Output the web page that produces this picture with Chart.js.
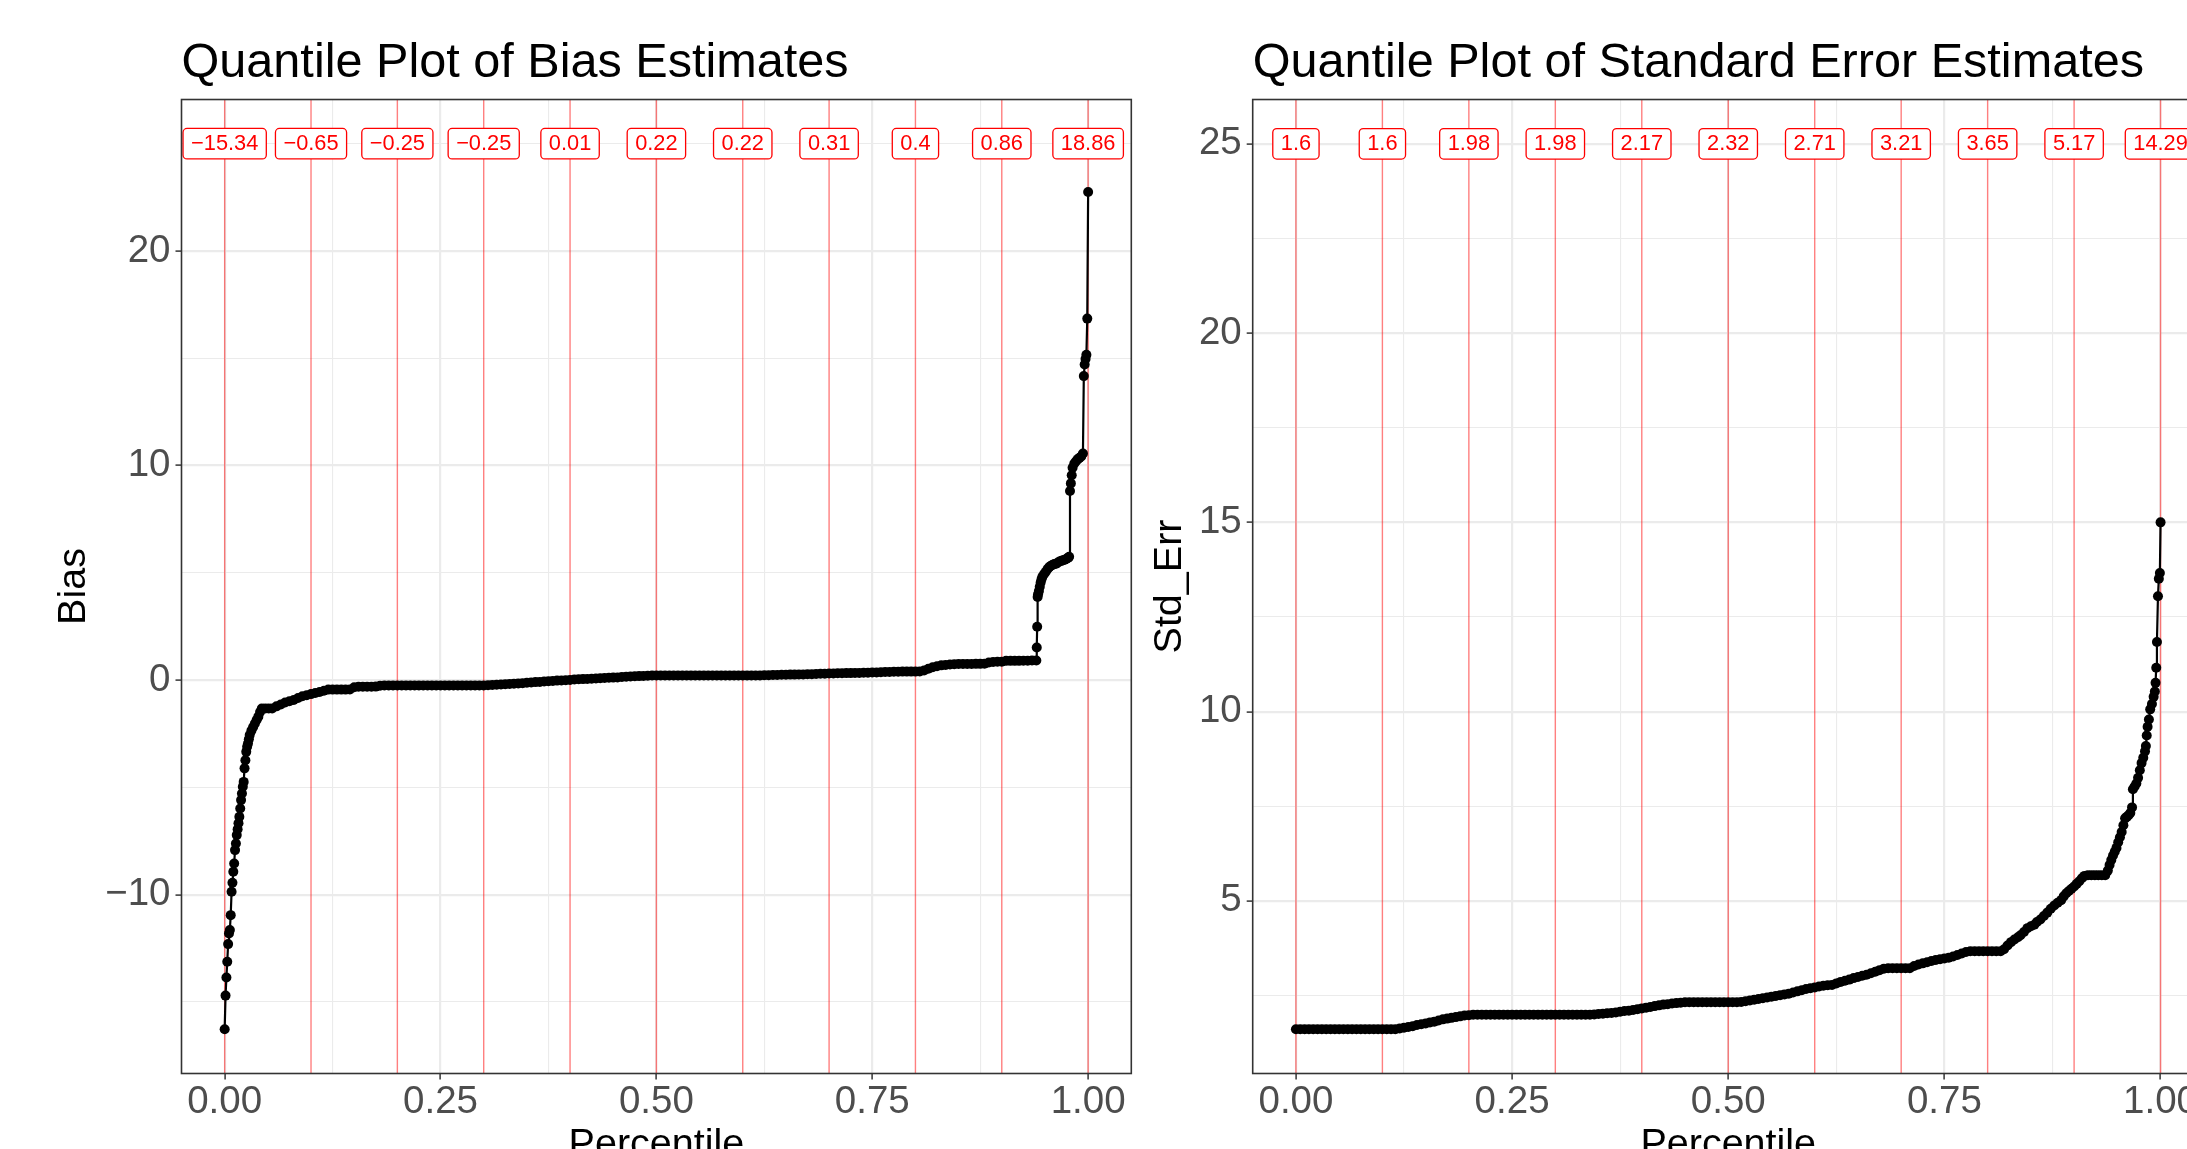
<!DOCTYPE html>
<html>
<head>
<meta charset="utf-8">
<title>Quantile plots</title>
<script src="https://cdn.jsdelivr.net/npm/chart.js@4.4.1/dist/chart.umd.min.js"></script>
<style>
  html, body { margin: 0; padding: 0; background: #fff; overflow: hidden; }
  body { width: 2187px; height: 1149px; position: relative; }
  canvas { position: absolute; top: 0; }
  #bias-chart { left: 0; }
  #se-chart { left: 1140px; }
</style>
</head>
<body>
<canvas id="bias-chart" width="1160" height="1200"></canvas>
<canvas id="se-chart" width="1100" height="1200"></canvas>
<script>
const FONT = '"Liberation Sans", Arial, Helvetica, sans-serif';

// quantile markers (red lines + boxed labels at y = 25)
const quantileSteps = [0, 0.1, 0.2, 0.3, 0.4, 0.5, 0.6, 0.7, 0.8, 0.9, 1.0];
const biasQuantiles = [-15.34, -0.65, -0.25, -0.25, 0.01, 0.22, 0.22, 0.31, 0.4, 0.86, 18.86];
const seQuantiles = [1.6, 1.6, 1.98, 1.98, 2.17, 2.32, 2.71, 3.21, 3.65, 5.17, 14.29];
const labelLevel = 25;

// tick marks ('' = minor gridline only)
const xTickValues = [0, 0.125, 0.25, 0.375, 0.5, 0.625, 0.75, 0.875, 1];
const xTickLabels = ['0.00', '', '0.25', '', '0.50', '', '0.75', '', '1.00'];
const biasTickValues = [-15, -10, -5, 0, 5, 10, 15, 20, 25];
const biasTickLabels = ['', '\u221210', '', '0', '', '10', '', '20', ''];
const seTickValues = [2.5, 5, 7.5, 10, 12.5, 15, 17.5, 20, 22.5, 25];
const seTickLabels = ['', '5', '', '10', '', '15', '', '20', '', '25'];

// bias estimates, sorted
const biasPct = [
  0.000,0.001,0.002,0.003,0.004,0.005,0.006,0.007,0.008,0.009,
  0.010,0.011,0.012,0.013,0.014,0.015,0.016,0.017,0.018,0.019,
  0.020,0.021,0.022,0.023,0.024,0.025,0.026,0.027,0.028,0.029,
  0.031,0.033,0.035,0.037,0.039,0.041,0.043,0.047,0.051,0.055,
  0.060,0.065,0.070,0.075,0.080,0.085,0.090,0.095,0.100,0.105,
  0.110,0.115,0.120,0.125,0.130,0.135,0.140,0.145,0.150,0.155,
  0.160,0.165,0.170,0.175,0.180,0.185,0.190,0.195,0.200,0.205,
  0.210,0.215,0.220,0.225,0.230,0.235,0.240,0.245,0.250,0.255,
  0.260,0.265,0.270,0.275,0.280,0.285,0.290,0.295,0.300,0.305,
  0.310,0.315,0.320,0.325,0.330,0.335,0.340,0.345,0.350,0.355,
  0.360,0.365,0.370,0.375,0.380,0.385,0.390,0.395,0.400,0.405,
  0.410,0.415,0.420,0.425,0.430,0.435,0.440,0.445,0.450,0.455,
  0.460,0.465,0.470,0.475,0.480,0.485,0.490,0.495,0.500,0.505,
  0.510,0.515,0.520,0.525,0.530,0.535,0.540,0.545,0.550,0.555,
  0.560,0.565,0.570,0.575,0.580,0.585,0.590,0.595,0.600,0.605,
  0.610,0.615,0.620,0.625,0.630,0.635,0.640,0.645,0.650,0.655,
  0.660,0.665,0.670,0.675,0.680,0.685,0.690,0.695,0.700,0.705,
  0.710,0.715,0.720,0.725,0.730,0.735,0.740,0.745,0.750,0.755,
  0.760,0.765,0.770,0.775,0.780,0.785,0.790,0.795,0.800,0.805,
  0.810,0.815,0.820,0.825,0.830,0.835,0.840,0.845,0.850,0.855,
  0.860,0.865,0.870,0.875,0.880,0.885,0.890,0.895,0.900,0.905,
  0.910,0.915,0.920,0.925,0.930,0.935,0.940,
  0.9405,0.941,0.9415,0.942,0.943,0.944,0.945,0.946,0.947,0.949,
  0.951,0.953,0.955,0.957,0.959,0.961,0.963,0.965,0.967,0.969,
  0.971,0.973,0.975,0.977,0.978,0.979,0.980,0.981,0.982,0.984,
  0.986,0.988,0.990,0.992,0.994,0.995,0.996,0.997,0.998,0.999,1.000
];
const biasValues = [
  -16.27,-14.70,-13.86,-13.12,-12.30,-11.80,-11.64,-10.95,-9.86,-9.44,
  -8.93,-8.54,-7.92,-7.61,-7.22,-6.95,-6.67,-6.37,-5.98,-5.59,
  -5.28,-4.97,-4.74,-4.11,-3.73,-3.34,-3.10,-2.95,-2.75,-2.56,
  -2.35,-2.18,-2.02,-1.86,-1.70,-1.48,-1.32,-1.32,-1.32,-1.32,
  -1.22,-1.13,-1.04,-0.98,-0.92,-0.83,-0.75,-0.70,-0.65,-0.60,
  -0.55,-0.49,-0.44,-0.44,-0.44,-0.44,-0.44,-0.43,-0.33,-0.31,
  -0.31,-0.31,-0.31,-0.30,-0.26,-0.25,-0.25,-0.25,-0.25,-0.25,
  -0.25,-0.25,-0.25,-0.25,-0.25,-0.25,-0.25,-0.25,-0.25,-0.25,
  -0.25,-0.25,-0.25,-0.25,-0.25,-0.25,-0.25,-0.25,-0.25,-0.24,
  -0.22,-0.21,-0.20,-0.19,-0.18,-0.17,-0.15,-0.14,-0.12,-0.11,
  -0.09,-0.08,-0.06,-0.05,-0.04,-0.02,-0.01,0.00,0.01,0.03,
  0.04,0.05,0.06,0.07,0.08,0.09,0.10,0.11,0.12,0.13,
  0.15,0.16,0.17,0.18,0.19,0.20,0.21,0.22,0.22,0.22,
  0.22,0.22,0.22,0.22,0.22,0.22,0.22,0.22,0.22,0.22,
  0.22,0.22,0.22,0.22,0.22,0.22,0.22,0.22,0.22,0.22,
  0.22,0.22,0.22,0.23,0.23,0.24,0.24,0.25,0.25,0.26,
  0.26,0.27,0.27,0.28,0.28,0.29,0.30,0.30,0.31,0.31,
  0.32,0.32,0.33,0.33,0.34,0.34,0.35,0.35,0.36,0.36,
  0.37,0.38,0.38,0.39,0.39,0.40,0.40,0.40,0.40,0.41,
  0.45,0.53,0.60,0.65,0.69,0.71,0.73,0.74,0.75,0.75,
  0.75,0.75,0.76,0.76,0.77,0.82,0.85,0.86,0.86,0.90,
  0.90,0.90,0.90,0.91,0.91,0.92,0.92,
  1.52,2.49,3.88,4.00,4.15,4.35,4.55,4.70,4.82,4.95,
  5.05,5.18,5.27,5.33,5.38,5.41,5.43,5.48,5.53,5.56,
  5.59,5.61,5.66,5.71,5.75,8.82,9.17,9.55,9.90,10.10,
  10.20,10.30,10.36,10.42,10.56,14.17,14.71,14.97,15.16,16.85,22.75
];

// standard error estimates, sorted
const sePct = [
  0.000,0.005,0.010,0.015,0.020,0.025,0.030,0.035,0.040,0.045,
  0.050,0.055,0.060,0.065,0.070,0.075,0.080,0.085,0.090,0.095,
  0.100,0.105,0.110,0.115,0.120,0.125,0.130,0.135,0.140,0.145,
  0.150,0.155,0.160,0.165,0.170,0.175,0.180,0.185,0.190,0.195,
  0.200,0.205,0.210,0.215,0.220,0.225,0.230,0.235,0.240,0.245,
  0.250,0.255,0.260,0.265,0.270,0.275,0.280,0.285,0.290,0.295,
  0.300,0.305,0.310,0.315,0.320,0.325,0.330,0.335,0.340,0.345,
  0.350,0.355,0.360,0.365,0.370,0.375,0.380,0.385,0.390,0.395,
  0.400,0.405,0.410,0.415,0.420,0.425,0.430,0.435,0.440,0.445,
  0.450,0.455,0.460,0.465,0.470,0.475,0.480,0.485,0.490,0.495,
  0.500,0.505,0.510,0.515,0.520,0.525,0.530,0.535,0.540,0.545,
  0.550,0.555,0.560,0.565,0.570,0.575,0.580,0.585,0.590,0.595,
  0.600,0.605,0.610,0.615,0.620,0.625,0.630,0.635,0.640,0.645,
  0.650,0.655,0.660,0.665,0.670,0.675,0.680,0.685,0.690,0.695,
  0.700,0.705,0.710,0.715,0.720,0.725,0.730,0.735,0.740,0.745,
  0.750,0.755,0.760,0.765,0.770,0.775,0.780,0.785,0.790,0.795,
  0.800,0.805,0.810,0.815,
  0.819,0.823,0.827,0.831,0.835,0.838,0.842,0.846,0.850,0.854,
  0.857,0.861,0.865,0.869,0.873,0.877,0.881,0.885,0.888,0.891,
  0.894,0.897,0.900,0.903,0.906,0.909,0.912,0.916,0.920,0.924,
  0.928,0.932,0.936,0.939,0.941,0.943,0.945,0.947,0.949,0.951,
  0.953,0.955,0.957,0.959,0.961,0.963,0.965,0.967,0.968,0.970,
  0.972,0.974,0.976,0.978,0.980,0.982,0.983,0.984,0.985,0.9865,
  0.988,0.990,0.992,0.9934,0.9942,0.995,0.9958,0.997,0.998,0.9992,1.000
];
const seValues = [
  1.61,1.61,1.61,1.61,1.61,1.61,1.61,1.61,1.61,1.61,
  1.61,1.61,1.61,1.61,1.61,1.61,1.61,1.61,1.61,1.61,
  1.61,1.61,1.61,1.61,1.63,1.65,1.67,1.69,1.72,1.74,
  1.76,1.79,1.81,1.84,1.87,1.89,1.91,1.93,1.95,1.97,
  1.98,1.99,1.99,1.99,1.99,1.99,1.99,1.99,1.99,1.99,
  1.99,1.99,1.99,1.99,1.99,1.99,1.99,1.99,1.99,1.99,
  1.99,1.99,1.99,1.99,1.99,1.99,1.99,1.99,1.99,2.00,
  2.01,2.02,2.03,2.04,2.05,2.07,2.09,2.10,2.12,2.14,
  2.16,2.18,2.20,2.22,2.24,2.26,2.27,2.29,2.30,2.31,
  2.32,2.32,2.32,2.32,2.32,2.32,2.32,2.32,2.32,2.32,
  2.32,2.32,2.32,2.33,2.35,2.37,2.39,2.41,2.43,2.45,
  2.47,2.49,2.51,2.53,2.55,2.58,2.61,2.64,2.67,2.69,
  2.71,2.74,2.76,2.77,2.78,2.82,2.86,2.89,2.92,2.96,
  2.99,3.02,3.05,3.09,3.13,3.17,3.21,3.22,3.22,3.22,
  3.22,3.22,3.22,3.28,3.32,3.35,3.38,3.41,3.44,3.46,
  3.48,3.50,3.53,3.57,3.61,3.65,3.67,3.67,3.67,3.67,
  3.67,3.67,3.67,3.67,
  3.72,3.82,3.91,3.98,4.04,4.09,4.18,4.28,4.33,4.37,
  4.44,4.51,4.60,4.69,4.79,4.88,4.95,5.02,5.12,5.20,
  5.26,5.32,5.38,5.45,5.52,5.60,5.66,5.68,5.68,5.68,
  5.68,5.68,5.68,5.80,5.95,6.08,6.20,6.30,6.40,6.55,
  6.68,6.82,7.00,7.18,7.22,7.26,7.32,7.47,7.95,8.02,
  8.10,8.25,8.45,8.64,8.78,8.95,9.09,9.37,9.60,9.79,
  10.06,10.20,10.39,10.53,10.76,11.16,11.84,13.05,13.51,13.66,15.00
];

function fmtLabel(v) {
  return v < 0 ? '\u2212' + Math.abs(v) : String(v);
}

// red vertical lines at each decile
const quantileLines = {
  id: 'quantileLines',
  beforeDatasetsDraw(chart) {
    const { ctx, chartArea } = chart;
    const xs = chart.scales.x;
    ctx.save();
    ctx.strokeStyle = 'rgba(255,0,0,0.5)';
    ctx.lineWidth = 1.4;
    quantileSteps.forEach(q => {
      const x = xs.getPixelForValue(q);
      ctx.beginPath();
      ctx.moveTo(x, chartArea.top);
      ctx.lineTo(x, chartArea.bottom);
      ctx.stroke();
    });
    ctx.restore();
  }
};

// boxed quantile values
const quantileBoxes = {
  id: 'quantileBoxes',
  afterDatasetsDraw(chart, args, opts) {
    const { ctx } = chart;
    const xs = chart.scales.x, ys = chart.scales.y;
    const y = ys.getPixelForValue(labelLevel);
    ctx.save();
    ctx.font = '21.8px ' + FONT;
    ctx.textAlign = 'center';
    ctx.textBaseline = 'middle';
    opts.values.forEach((v, i) => {
      const text = fmtLabel(v);
      const x = xs.getPixelForValue(quantileSteps[i]);
      const w = ctx.measureText(text).width + 16;
      const h = 30.5;
      const l = x - w / 2, t = y - h / 2, r = 4;
      ctx.beginPath();
      ctx.moveTo(l + r, t);
      ctx.arcTo(l + w, t, l + w, t + h, r);
      ctx.arcTo(l + w, t + h, l, t + h, r);
      ctx.arcTo(l, t + h, l, t, r);
      ctx.arcTo(l, t, l + w, t, r);
      ctx.closePath();
      ctx.fillStyle = '#ffffff';
      ctx.fill();
      ctx.strokeStyle = '#ff0000';
      ctx.lineWidth = 1.3;
      ctx.stroke();
      ctx.fillStyle = '#ff0000';
      ctx.fillText(text, x, y + 0.5);
    });
    ctx.restore();
  }
};

const panelBorder = {
  id: 'panelBorder',
  afterDraw(chart) {
    const { ctx, chartArea } = chart;
    ctx.save();
    ctx.strokeStyle = '#333333';
    ctx.lineWidth = 1.6;
    ctx.strokeRect(chartArea.left, chartArea.top, chartArea.right - chartArea.left, chartArea.bottom - chartArea.top);
    ctx.restore();
  }
};

function makeChart(canvasId, s) {
  const points = s.pct.map((p, i) => ({ x: p, y: s.values[i] }));
  return new Chart(document.getElementById(canvasId), {
    type: 'scatter',
    data: {
      datasets: [{
        data: points,
        showLine: true,
        borderColor: '#000000',
        borderWidth: 2.2,
        tension: 0,
        pointRadius: 5,
        pointBackgroundColor: '#000000',
        pointBorderWidth: 0
      }]
    },
    options: {
      responsive: false,
      animation: false,
      layout: { padding: { left: 0, right: s.padRight, top: 0, bottom: 0 } },
      plugins: {
        legend: { display: false },
        tooltip: { enabled: false },
        title: {
          display: true,
          text: s.title,
          align: 'start',
          fullSize: false,
          color: '#000000',
          font: { family: FONT, size: 48.6, weight: 'normal', lineHeight: 1.2 },
          padding: { top: 34.5, bottom: 6.7 }
        },
        quantileBoxes: { values: s.quantiles }
      },
      scales: {
        x: {
          type: 'linear',
          bounds: 'data',
          min: -0.05,
          max: 1.05,
          afterBuildTicks: sc => { sc.ticks = xTickValues.map(v => ({ value: v })); },
          afterFit: sc => { sc.height = 126.5; },
          ticks: {
            callback: (v, i) => xTickLabels[i],
            autoSkip: false, maxRotation: 0, minRotation: 0,
            color: '#4D4D4D',
            font: { family: FONT, size: 38.5, lineHeight: 1 },
            padding: 3.5
          },
          grid: {
            color: '#EBEBEB',
            lineWidth: c => xTickLabels[c.index] ? 2.2 : 1.1,
            tickLength: 6,
            tickWidth: 1.5,
            tickColor: c => xTickLabels[c.index] ? '#333333' : 'rgba(0,0,0,0)'
          },
          border: { display: false },
          title: {
            display: true, text: 'Percentile', color: '#000000',
            font: { family: FONT, size: 39.5, lineHeight: 1.2 },
            padding: { top: 0, bottom: 30.7 }
          }
        },
        y: {
          type: 'linear',
          bounds: 'data',
          min: s.yMin,
          max: s.yMax,
          afterBuildTicks: sc => { sc.ticks = s.yTicks.map(v => ({ value: v })); },
          afterFit: sc => { sc.width = s.yWidth; },
          ticks: {
            callback: (v, i) => s.yLabels[i],
            autoSkip: false,
            color: '#4D4D4D',
            font: { family: FONT, size: 38.5, lineHeight: 1.2 },
            padding: 5
          },
          grid: {
            color: '#EBEBEB',
            lineWidth: c => s.yLabels[c.index] ? 2.2 : 1.1,
            tickLength: 6,
            tickWidth: 1.5,
            tickColor: c => s.yLabels[c.index] ? '#333333' : 'rgba(0,0,0,0)'
          },
          border: { display: false },
          title: {
            display: true, text: s.yTitle, color: '#000000',
            font: { family: FONT, size: 39.5, lineHeight: 1.2 },
            padding: { top: s.yTitlePad, bottom: 0 }
          }
        }
      }
    },
    plugins: [quantileLines, quantileBoxes, panelBorder]
  });
}

makeChart('bias-chart', {
  title: 'Quantile Plot of Bias Estimates',
  pct: biasPct, values: biasValues, quantiles: biasQuantiles,
  yMin: -18.33, yMax: 27.06,
  yTicks: biasTickValues, yLabels: biasTickLabels,
  yTitle: 'Bias', yTitlePad: 50, yWidth: 181.5, padRight: 28.7
});

makeChart('se-chart', {
  title: 'Quantile Plot of Standard Error Estimates',
  pct: sePct, values: seValues, quantiles: seQuantiles,
  yMin: 0.44, yMax: 26.17,
  yTicks: seTickValues, yLabels: seTickLabels,
  yTitle: 'Std_Err', yTitlePad: 6.5, yWidth: 112.7, padRight: 36.2
});
</script>
</body>
</html>
